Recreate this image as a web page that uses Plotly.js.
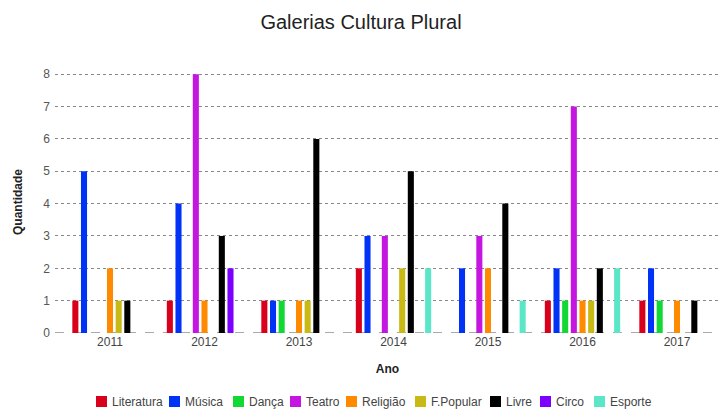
<!DOCTYPE html>
<html>
<head>
<meta charset="utf-8">
<script src="https://cdn.plot.ly/plotly-3.0.1.min.js"></script>
<style>html,body{margin:0;padding:0;background:#fff;}#chart{width:722px;height:409px;}</style>
</head>
<body>
<div id="chart"></div>
<script>
const anos = ['2011','2012','2013','2014','2015','2016','2017'];
const series = ['Literatura','Música','Dança','Teatro','Religião','F.Popular','Livre','Circo','Esporte'];
const literatura = [1,1,1,2,0,1,1];
const musica     = [5,4,1,3,2,2,2];
const danca      = [0,0,1,0,0,1,1];
const teatro     = [0,8,0,3,3,7,0];
const religiao   = [2,1,1,0,2,1,1];
const fpopular   = [1,0,1,2,0,1,0];
const livre      = [1,3,6,5,4,2,1];
const circo      = [0,2,0,0,0,0,0];
const esporte    = [0,0,0,2,1,2,0];
const yTicks = [0,1,2,3,4,5,6,7,8];

const values = [literatura,musica,danca,teatro,religiao,fpopular,livre,circo,esporte];
const colors = ['#d9001b','#0033f5','#11d833','#c416e0','#ff8a00','#c9b914','#000000','#7b00ff','#5ce6c8'];

// plot area in pixels (layout only)
const PL = 55, PR = 720, PT = 71, PB = 333;
const PW = PR - PL, PH = PB - PT;
const px2x = p => (p - PL) / PW;
const py2y = p => (PB - p) / PH;
// legend square left edges in pixels (layout only)
const legendSq = [96, 169, 233, 290, 346, 415, 490, 540, 594];

const traces = series.map((name,i)=>({
  type:'bar', name:name, x:anos, y:values[i],
  marker:{color:colors[i]},
  showlegend:false
}));

const shapes = [{type:'line', xref:'paper', yref:'y', x0:0, x1:1, y0:0, y1:0, line:{color:'#555', width:1, dash:'dash'}, layer:'below'}];
const annotations = [];
series.forEach((name,i)=>{
  shapes.push({type:'rect', xref:'paper', yref:'paper',
    x0:px2x(legendSq[i]), x1:px2x(legendSq[i]+11), y0:py2y(407), y1:py2y(396),
    fillcolor:colors[i], line:{width:0}});
  annotations.push({xref:'paper', yref:'paper', x:px2x(legendSq[i]+14), y:py2y(401.5),
    xanchor:'left', yanchor:'middle', showarrow:false, text:name,
    font:{size:12, color:'#444'}});
});

const layout = {
  width:722, height:409,
  margin:{l:PL, r:722-PR, t:PT, b:409-PB},
  paper_bgcolor:'#fff', plot_bgcolor:'#fff',
  font:{family:'Liberation Sans, Arial, sans-serif', size:12, color:'#444'},
  title:{text:'Galerias Cultura Plural', font:{size:20, color:'#222'}, x:0.5, xanchor:'center', y:0.945, yanchor:'middle'},
  barmode:'group', bargap:0.175, bargroupgap:0.3,
  showlegend:false,
  xaxis:{type:'category', range:[-0.582, 6.455], showgrid:false, zeroline:false, showline:false, ticks:'', automargin:false,
    tickfont:{size:12, color:'#444'},
    title:{text:'<b>Ano</b>', font:{size:12, color:'#222'}, standoff:16}},
  yaxis:{range:[0,8.1], tickvals:yTicks, ticktext:yTicks.map(String), showgrid:true, gridcolor:'#888', griddash:'dot', gridwidth:1,
    zeroline:false, showline:false, ticks:'', ticklabelstandoff:4, automargin:false, tickfont:{size:12, color:'#555'},
    title:{text:'<b>Quantidade</b>', font:{size:12, color:'#222'}, standoff:18}},
  shapes:shapes,
  annotations:annotations
};
Plotly.newPlot('chart', traces, layout, {displayModeBar:false, staticPlot:true});
</script>
</body>
</html>
